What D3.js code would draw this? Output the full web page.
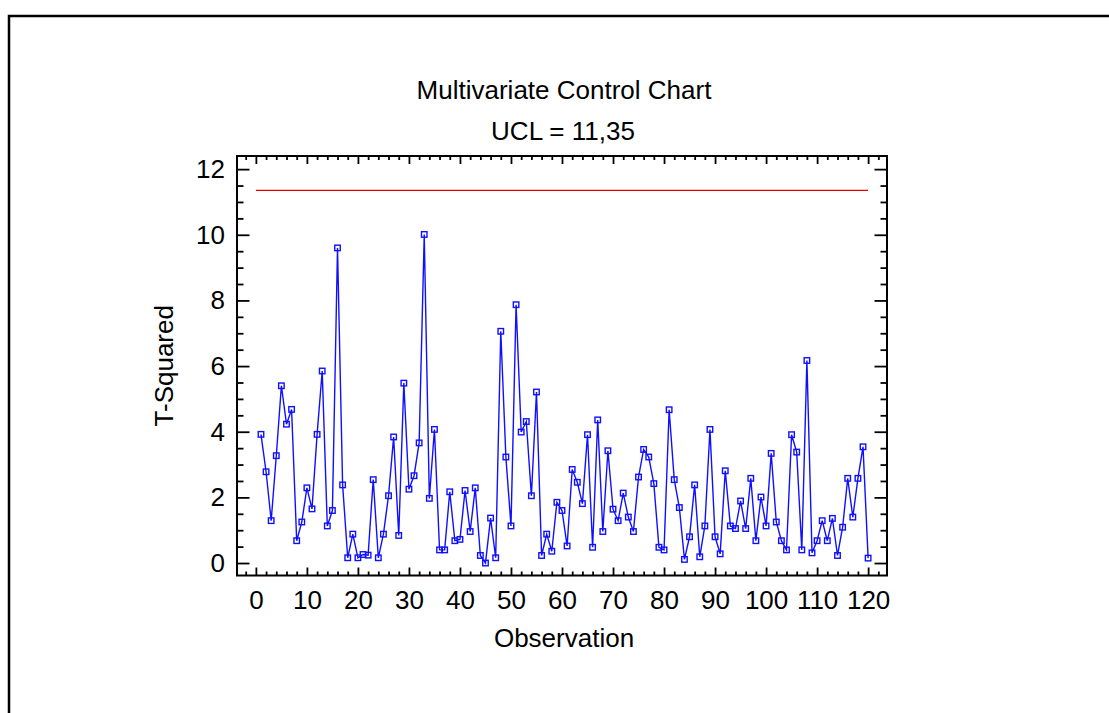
<!DOCTYPE html>
<html>
<head>
<meta charset="utf-8">
<script src="https://cdn.jsdelivr.net/npm/d3@7"></script>
<style>
  html, body { margin: 0; padding: 0; background: #ffffff; }
  svg { display: block; }
  text { font-family: "Liberation Sans", Arial, Helvetica, sans-serif; fill: #000; }
</style>
</head>
<body>
<svg id="chart" width="1109" height="713"></svg>
<script>
// T-squared statistic for each observation (1..120)
const observations = d3.range(1, 121);
const tSquared = [
  3.92, 2.78, 1.29, 3.27, 5.40, 4.23, 4.68, 0.68, 1.25, 2.29,
  1.65, 3.92, 5.85, 1.13, 1.60, 9.60, 2.38, 0.16, 0.88, 0.16,
  0.26, 0.24, 2.54, 0.16, 0.88, 2.05, 3.84, 0.84, 5.48, 2.25,
  2.66, 3.66, 10.01, 1.97, 4.07, 0.40, 0.40, 2.17, 0.68, 0.72,
  2.21, 0.96, 2.29, 0.23, 0.00, 1.37, 0.16, 7.06, 3.23, 1.13,
  7.87, 3.99, 4.31, 2.05, 5.21, 0.23, 0.88, 0.36, 1.85, 1.60,
  0.52, 2.85, 2.46, 1.81, 3.91, 0.48, 4.36, 0.96, 3.42, 1.64,
  1.29, 2.13, 1.40, 0.96, 2.62, 3.46, 3.23, 2.42, 0.48, 0.40,
  4.67, 2.54, 1.69, 0.11, 0.80, 2.38, 0.19, 1.13, 4.07, 0.80,
  0.28, 2.81, 1.13, 1.05, 1.89, 1.05, 2.58, 0.68, 2.01, 1.13,
  3.34, 1.25, 0.68, 0.40, 3.91, 3.38, 0.40, 6.17, 0.31, 0.68,
  1.29, 0.68, 1.36, 0.23, 1.09, 2.58, 1.40, 2.58, 3.54, 0.15
];

// Upper control limit
const ucl = 11.35;
const uclLabel = "UCL = 11,35";
const uclSpan = [0, 120];

// Axis ticks
const xMajorTicks = d3.range(0, 121, 10);
const xMinorTicks = d3.range(-2, 124, 2).filter(v => v % 10 !== 0);
const yMajorTicks = d3.range(0, 13, 2);
const yMinorTicks = d3.range(0, 12.5, 0.5).filter(v => v % 2 !== 0);

const titleText = "Multivariate Control Chart";
const xTitle = "Observation";
const yTitle = "T-Squared";

const svg = d3.select("#chart");
const fontSize = 26;

// Outer frame of the page
svg.append("rect")
  .attr("x", 9).attr("y", 16)
  .attr("width", 1200).attr("height", 800)
  .attr("fill", "none").attr("stroke", "#000").attr("stroke-width", 2.5);

const plot = { left: 237, right: 887, top: 156, bottom: 575.5 };

const x = d3.scaleLinear().domain([-3.7, 123.7]).range([plot.left, plot.right]);
const y = d3.scaleLinear().domain([-0.38, 12.4]).range([plot.bottom, plot.top]);

// Frame of the plotting area
svg.append("rect")
  .attr("x", plot.left).attr("y", plot.top)
  .attr("width", plot.right - plot.left).attr("height", plot.bottom - plot.top)
  .attr("fill", "none").attr("stroke", "#000").attr("stroke-width", 2);

function styleAxis(g) {
  g.select(".domain").remove();
  g.selectAll(".tick line").attr("stroke", "#000").attr("stroke-width", 1.8);
  g.selectAll("text").style("font-size", fontSize + "px")
    .style("font-family", "'Liberation Sans', Arial, sans-serif");
}

// Bottom axis: labelled majors + minors, ticks pointing inward
svg.append("g").attr("transform", `translate(0,${plot.bottom})`)
  .call(d3.axisBottom(x).tickValues(xMajorTicks).tickSize(-8).tickPadding(15).tickFormat(d3.format("d")))
  .call(styleAxis);
svg.append("g").attr("transform", `translate(0,${plot.bottom})`)
  .call(d3.axisBottom(x).tickValues(xMinorTicks).tickSize(-4).tickFormat(""))
  .call(styleAxis);
// Top axis mirrors the bottom ticks
svg.append("g").attr("transform", `translate(0,${plot.top})`)
  .call(d3.axisTop(x).tickValues(xMajorTicks).tickSize(-8).tickFormat(""))
  .call(styleAxis);
svg.append("g").attr("transform", `translate(0,${plot.top})`)
  .call(d3.axisTop(x).tickValues(xMinorTicks).tickSize(-4).tickFormat(""))
  .call(styleAxis);

// Left axis
svg.append("g").attr("transform", `translate(${plot.left},0)`)
  .call(d3.axisLeft(y).tickValues(yMajorTicks).tickSize(-12.5).tickPadding(12).tickFormat(d3.format("d")))
  .call(styleAxis);
svg.append("g").attr("transform", `translate(${plot.left},0)`)
  .call(d3.axisLeft(y).tickValues(yMinorTicks).tickSize(-6.5).tickFormat(""))
  .call(styleAxis);
// Right axis mirrors the left ticks
svg.append("g").attr("transform", `translate(${plot.right},0)`)
  .call(d3.axisRight(y).tickValues(yMajorTicks).tickSize(-12.5).tickFormat(""))
  .call(styleAxis);
svg.append("g").attr("transform", `translate(${plot.right},0)`)
  .call(d3.axisRight(y).tickValues(yMinorTicks).tickSize(-6.5).tickFormat(""))
  .call(styleAxis);

// Control limit
svg.append("line")
  .attr("x1", x(uclSpan[0])).attr("x2", x(uclSpan[1]))
  .attr("y1", y(ucl)).attr("y2", y(ucl))
  .attr("stroke", "#e00000").attr("stroke-width", 1.2);

// Series line
const points = observations.map((o, i) => [o, tSquared[i]]);
svg.append("path")
  .datum(points)
  .attr("fill", "none")
  .attr("stroke", "#1010ff")
  .attr("stroke-width", 1.4)
  .attr("d", d3.line().x(d => x(d[0])).y(d => y(d[1])));

// Square markers
const ms = 5.5;
svg.append("g").selectAll("rect")
  .data(points)
  .join("rect")
  .attr("x", d => x(d[0]) - ms / 2)
  .attr("y", d => y(d[1]) - ms / 2)
  .attr("width", ms).attr("height", ms)
  .attr("fill", "none")
  .attr("stroke", "#1010ff")
  .attr("stroke-width", 1.4);

// Titles
const cx = (plot.left + plot.right) / 2;
svg.append("text").attr("x", cx + 2).attr("y", 99).attr("text-anchor", "middle")
  .style("font-size", fontSize + "px").text(titleText);
svg.append("text").attr("x", cx + 1).attr("y", 140).attr("text-anchor", "middle")
  .style("font-size", fontSize + "px").text(uclLabel);
svg.append("text").attr("x", cx + 2).attr("y", 647).attr("text-anchor", "middle")
  .style("font-size", fontSize + "px").text(xTitle);
svg.append("text")
  .attr("transform", `translate(173,${(plot.top + plot.bottom) / 2}) rotate(-90)`)
  .attr("text-anchor", "middle")
  .style("font-size", fontSize + "px").text(yTitle);
</script>
</body>
</html>
